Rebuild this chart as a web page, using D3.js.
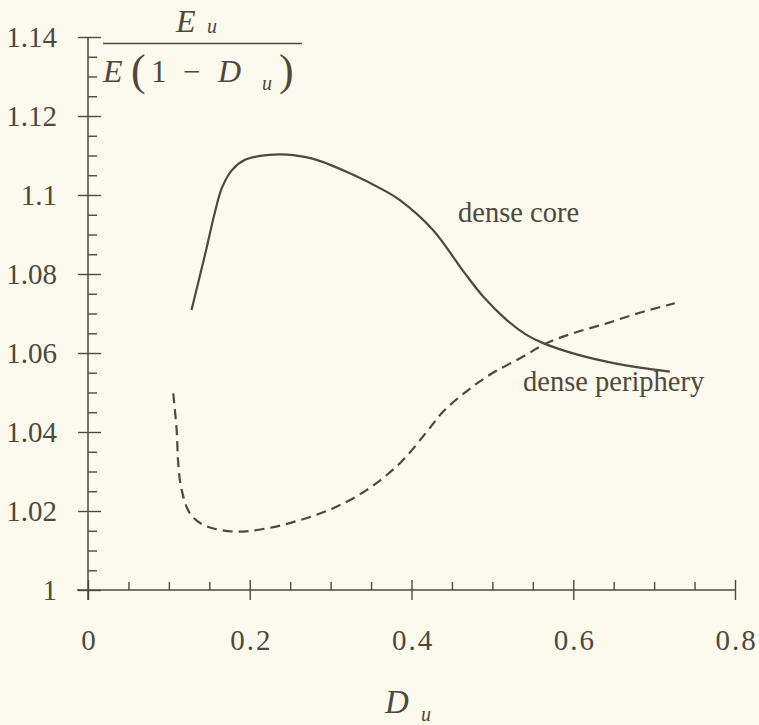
<!DOCTYPE html>
<html>
<head>
<meta charset="utf-8">
<script src="https://cdn.jsdelivr.net/npm/d3@7"></script>
<style>
  html, body { margin: 0; padding: 0; background: #fcfaef; }
  #canvas { width: 759px; height: 725px; }
</style>
</head>
<body>
<div id="canvas"></div>
<script>
"use strict"

/* data */
let coreD = [0.128, 0.1446, 0.1570, 0.1656, 0.1780, 0.1941, 0.2126, 0.2373, 0.2538, 0.2827,
             0.3239, 0.3650, 0.3857, 0.4268, 0.4630, 0.4886, 0.5175, 0.5423, 0.5628, 0.5999,
             0.6412, 0.6823, 0.7194];
let coreV = [1.0709, 1.0848, 1.0957, 1.1018, 1.1063, 1.1089, 1.1099, 1.1103, 1.1101, 1.1089,
             1.1055, 1.1013, 1.0987, 1.0911, 1.0810, 1.0743, 1.0684, 1.0646, 1.0625, 1.0599,
             1.0578, 1.0563, 1.0553];

let periD = [0.1054, 0.1096, 0.1116, 0.1158, 0.1261, 0.1425, 0.1796, 0.2209, 0.2621, 0.3032,
             0.3445, 0.3857, 0.4187, 0.4392, 0.4681, 0.4969, 0.5381, 0.5670, 0.5999, 0.6412,
             0.6823, 0.7256];
let periV = [1.0498, 1.0405, 1.0321, 1.0253, 1.0194, 1.0165, 1.0148, 1.0156, 1.0177, 1.0207,
             1.0253, 1.0321, 1.0400, 1.0452, 1.0503, 1.0545, 1.0591, 1.0625, 1.0650, 1.0675,
             1.0702, 1.0726];

let xMajor = [0, 0.2, 0.4, 0.6, 0.8];
let xMinor = [0.05, 0.1, 0.15, 0.25, 0.3, 0.35, 0.45, 0.5, 0.55, 0.65, 0.7, 0.75];
let yMajor = [1, 1.02, 1.04, 1.06, 1.08, 1.1, 1.12, 1.14];
let yMinor = [1.005, 1.01, 1.015, 1.025, 1.03, 1.035, 1.045, 1.05, 1.055, 1.065, 1.07, 1.075,
              1.085, 1.09, 1.095, 1.105, 1.11, 1.115, 1.125, 1.13, 1.135];
let yLabels = ["1", "1.02", "1.04", "1.06", "1.08", "1.1", "1.12", "1.14"];

let ink = "#4f493b";
let font = "'Liberation Serif', 'Times New Roman', serif";

let drawing = d3.select("#canvas")
  .append("svg")
  .attr("width", 759)
  .attr("height", 725);

let x = d3.scaleLinear().domain([0, 0.8]).range([88, 735]);
let y = d3.scaleLinear().domain([1, 1.14]).range([590, 37]);

/* ---------- X AXIS ---------- */
let xAxisMinor = drawing.append("g")
  .attr("transform", "translate(0," + y(1) + ")")
  .call(d3.axisTop(x).tickValues(xMinor).tickSize(8).tickFormat(""));

let xAxisMajor = drawing.append("g")
  .attr("transform", "translate(0," + y(1) + ")")
  .call(d3.axisBottom(x).tickValues(xMajor).tickSize(10).tickPadding(29)
    .tickFormat(d => d === 0 ? "0" : d3.format(".1f")(d)));
xAxisMajor.selectAll(".tick line").attr("y1", -10);

/* ---------- Y AXIS ---------- */
let yAxisMinor = drawing.append("g")
  .attr("transform", "translate(" + x(0) + ",0)")
  .call(d3.axisRight(y).tickValues(yMinor).tickSize(9).tickFormat(""));

let yAxisMajor = drawing.append("g")
  .attr("transform", "translate(" + x(0) + ",0)")
  .call(d3.axisLeft(y).tickValues(yMajor).tickSize(10).tickPadding(21)
    .tickFormat((d, i) => yLabels[i]));
yAxisMajor.selectAll(".tick line").attr("x1", 13);

drawing.selectAll(".domain").remove();
drawing.selectAll(".tick line").attr("stroke", ink).attr("stroke-width", 1.4);
drawing.selectAll(".tick text")
  .attr("fill", ink)
  .style("font-family", font)
  .style("font-size", "29px");
xAxisMajor.selectAll(".tick text").style("letter-spacing", "2px").attr("dx", "1px");

let xLine = drawing.append("line")
  .attr("x1", x(0) - 11).attr("x2", x(0.8))
  .attr("y1", y(1)).attr("y2", y(1))
  .attr("stroke", ink).attr("stroke-width", 1.5);

let yLine = drawing.append("line")
  .attr("x1", x(0)).attr("x2", x(0))
  .attr("y1", y(1) + 10).attr("y2", y(1.14))
  .attr("stroke", ink).attr("stroke-width", 1.5);

/* ---------- CURVES ---------- */
let line = d3.line()
  .x(d => x(d[0]))
  .y(d => y(d[1]))
  .curve(d3.curveCatmullRom.alpha(0.5));

let corePath = drawing.append("path")
  .datum(coreD.map((d, i) => [d, coreV[i]]))
  .attr("d", line)
  .attr("fill", "none")
  .attr("stroke", ink)
  .attr("stroke-width", 2.2);

let periPath = drawing.append("path")
  .datum(periD.map((d, i) => [d, periV[i]]))
  .attr("d", line)
  .attr("fill", "none")
  .attr("stroke", ink)
  .attr("stroke-width", 2.2)
  .attr("stroke-dasharray", "10,6");

/* ---------- CURVE LABELS ---------- */
let coreLabel = drawing.append("text")
  .attr("x", 458).attr("y", 222)
  .attr("fill", ink)
  .style("font-family", font).style("font-size", "28.5px")
  .text("dense core");

let periLabel = drawing.append("text")
  .attr("x", 523).attr("y", 391)
  .attr("fill", ink)
  .style("font-family", font).style("font-size", "28.5px")
  .text("dense periphery");

/* ---------- Y LABEL (fraction) ---------- */
function italic(px, py, size, str) {
  return drawing.append("text")
    .attr("x", px).attr("y", py)
    .attr("fill", ink)
    .style("font-family", font).style("font-size", size + "px")
    .style("font-style", "italic")
    .text(str);
}
function upright(px, py, size, str) {
  return drawing.append("text")
    .attr("x", px).attr("y", py)
    .attr("fill", ink)
    .style("font-family", font).style("font-size", size + "px")
    .text(str);
}

italic(176, 32, 32, "E");
italic(207, 33, 20, "u");

let fracBar = drawing.append("line")
  .attr("x1", 103).attr("x2", 302)
  .attr("y1", 43.5).attr("y2", 43.5)
  .attr("stroke", ink).attr("stroke-width", 1.6);

italic(103, 82, 32, "E");
upright(131, 85, 44, "(");
upright(151, 82, 31, "1");
upright(183, 82, 31, "\u2212");
italic(218, 82, 32, "D");
italic(262, 90, 20, "u");
upright(279, 85, 44, ")");

/* ---------- X LABEL ---------- */
italic(385, 713, 33, "D");
italic(421, 721, 20, "u");
</script>
</body>
</html>
